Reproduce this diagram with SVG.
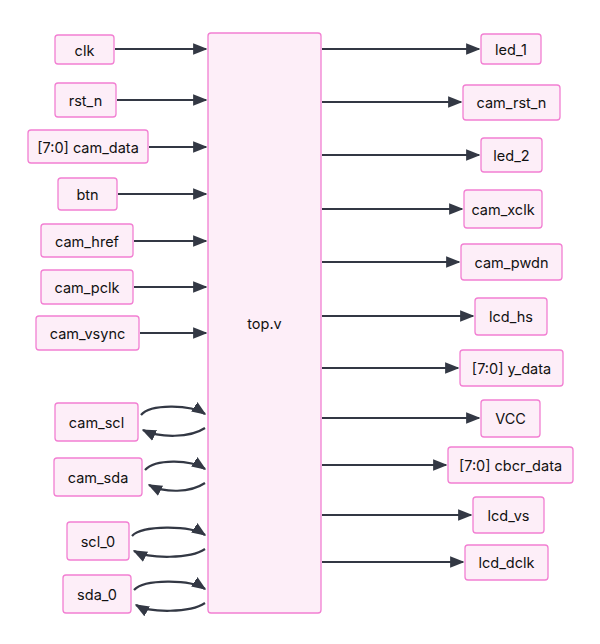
<svg xmlns="http://www.w3.org/2000/svg" width="600" height="644" viewBox="0 0 600 644">
<defs>
<marker id="a" viewBox="0 0 10 10" refX="9" refY="5" markerWidth="6.5" markerHeight="6.5" orient="auto-start-reverse"><path d="M0,1 L10,5 L0,9 z" fill="#333844"/></marker>
<style>
.n rect{fill:#fdeef8;stroke:#f27fd2;stroke-width:1.3}
.n text{font-family:Inter,"Liberation Sans",sans-serif;font-size:14.5px;fill:#111;text-anchor:middle;dominant-baseline:central}
#edges path{fill:none;stroke:#333844;stroke-width:2.2;marker-end:url(#a)}
</style>
</defs>
<rect width="600" height="644" fill="#fff"/>
<g id="top" class="n"><rect x="208" y="33" width="113" height="580" rx="3"/><text x="264.5" y="323">top.v</text></g>
<g id="clk" class="n"><rect x="55" y="35" width="59" height="29" rx="3"/><text x="84.5" y="50">clk</text></g>
<g id="rst_n" class="n"><rect x="55" y="83" width="61" height="34" rx="3"/><text x="85.5" y="100">rst_n</text></g>
<g id="cam_data" class="n"><rect x="28" y="130" width="120" height="33" rx="3"/><text x="88" y="147">[7:0] cam_data</text></g>
<g id="btn" class="n"><rect x="58" y="178" width="59" height="32" rx="3"/><text x="87.5" y="194">btn</text></g>
<g id="cam_href" class="n"><rect x="41" y="224" width="92" height="33" rx="3"/><text x="87" y="241">cam_href</text></g>
<g id="cam_pclk" class="n"><rect x="41" y="270" width="92" height="34" rx="3"/><text x="87" y="287">cam_pclk</text></g>
<g id="cam_vsync" class="n"><rect x="36" y="316" width="103" height="34" rx="3"/><text x="87.5" y="333">cam_vsync</text></g>
<g id="cam_scl" class="n"><rect x="55" y="403" width="83" height="38" rx="3"/><text x="96.5" y="422">cam_scl</text></g>
<g id="cam_sda" class="n"><rect x="54" y="458" width="88" height="38" rx="3"/><text x="98" y="477">cam_sda</text></g>
<g id="scl_0" class="n"><rect x="67" y="522" width="62" height="38" rx="3"/><text x="98" y="541">scl_0</text></g>
<g id="sda_0" class="n"><rect x="63" y="575" width="68" height="38" rx="3"/><text x="97" y="594">sda_0</text></g>
<g id="led_1" class="n"><rect x="481" y="34" width="60" height="30" rx="3"/><text x="511" y="49">led_1</text></g>
<g id="cam_rst_n" class="n"><rect x="463" y="85" width="97" height="35" rx="3"/><text x="511.5" y="102">cam_rst_n</text></g>
<g id="led_2" class="n"><rect x="481" y="138" width="61" height="34" rx="3"/><text x="511.5" y="155">led_2</text></g>
<g id="cam_xclk" class="n"><rect x="464" y="190" width="78" height="38" rx="3"/><text x="503" y="209">cam_xclk</text></g>
<g id="cam_pwdn" class="n"><rect x="461" y="244" width="101" height="36" rx="3"/><text x="511.5" y="262">cam_pwdn</text></g>
<g id="lcd_hs" class="n"><rect x="475" y="298" width="72" height="37" rx="3"/><text x="511" y="316">lcd_hs</text></g>
<g id="y_data" class="n"><rect x="460" y="350" width="103" height="36" rx="3"/><text x="511.5" y="368">[7:0] y_data</text></g>
<g id="VCC" class="n"><rect x="481" y="400" width="59" height="37" rx="3"/><text x="510.5" y="418">VCC</text></g>
<g id="cbcr_data" class="n"><rect x="448" y="447" width="125" height="36" rx="3"/><text x="510.5" y="465">[7:0] cbcr_data</text></g>
<g id="lcd_vs" class="n"><rect x="473" y="497" width="71" height="36" rx="3"/><text x="508.5" y="515">lcd_vs</text></g>
<g id="lcd_dclk" class="n"><rect x="465" y="545" width="83" height="35" rx="3"/><text x="506.5" y="562">lcd_dclk</text></g>
<g id="edges">
<path d="M115,49 H206"/>
<path d="M117,100 H206"/>
<path d="M149,147 H206"/>
<path d="M118,194 H206"/>
<path d="M134,241 H206"/>
<path d="M134,287 H206"/>
<path d="M140,333 H206"/>
<path d="M141,415 C150,404 190,404 205,414"/>
<path d="M205,428 C190,438 160,438 143,430"/>
<path d="M145,470 C155,459 190,459 205,469"/>
<path d="M205,483 C190,493 165,493 149,485"/>
<path d="M132,536 C142,525 190,525 205,535"/>
<path d="M205,549 C190,559 150,559 134,551"/>
<path d="M134,590 C144,579 190,579 205,589"/>
<path d="M205,603 C190,613 150,613 136,605"/>
<path d="M322,49 H479"/>
<path d="M322,102 H461"/>
<path d="M322,155 H479"/>
<path d="M322,209 H462"/>
<path d="M322,262 H459"/>
<path d="M322,316 H473"/>
<path d="M322,368 H458"/>
<path d="M322,418 H479"/>
<path d="M322,465 H446"/>
<path d="M322,515 H471"/>
<path d="M322,562 H463"/>
</g>
</svg>
